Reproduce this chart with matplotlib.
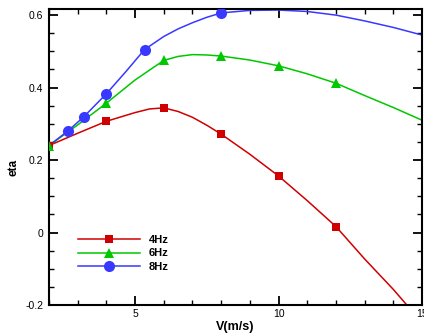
import matplotlib
matplotlib.use("Agg")
import matplotlib.pyplot as plt
from matplotlib.ticker import MultipleLocator
from matplotlib.lines import Line2D

plt.rcParams['font.family'] = ['Liberation Sans', 'DejaVu Sans']

# Curve readings (lines)
v4_line = [2, 3, 4, 5, 5.5, 6, 6.5, 7, 7.5, 8, 9, 10, 11, 12, 13, 14, 14.47]
eta4_line = [0.24, 0.274, 0.307, 0.331, 0.341, 0.344, 0.334, 0.318, 0.296, 0.2715, 0.216, 0.156, 0.088, 0.0165, -0.073, -0.157, -0.2]

v6_line = [2, 3, 4, 5, 6, 6.5, 7, 7.5, 8, 9, 10, 11, 12, 13, 14, 15]
eta6_line = [0.24, 0.297, 0.357, 0.421, 0.475, 0.486, 0.491, 0.490, 0.487, 0.476, 0.460, 0.438, 0.412, 0.378, 0.345, 0.310]

v8_line = [2, 2.67, 3.22, 4, 4.7, 5.33, 6, 6.5, 7, 7.5, 8, 9, 10, 11, 12, 13, 14, 15]
eta8_line = [0.24, 0.281, 0.320, 0.383, 0.446, 0.505, 0.541, 0.562, 0.579, 0.594, 0.606, 0.613, 0.614, 0.610, 0.600, 0.584, 0.566, 0.545]

# Marker readings
v4_pts = [2, 4, 6, 8, 10, 12]
eta4_pts = [0.24, 0.307, 0.344, 0.2715, 0.156, 0.0165]
v6_pts = [2, 4, 6, 8, 10, 12]
eta6_pts = [0.24, 0.357, 0.475, 0.487, 0.460, 0.412]
v8_pts = [2.67, 3.22, 4, 5.33, 8]
eta8_pts = [0.281, 0.320, 0.383, 0.505, 0.606]

labels = ['4Hz', '6Hz', '8Hz']
colors = ['#D00000', '#00C800', '#3838FF']
markers = ['s', '^', 'o']
msizes = [6, 6.5, 8]

fig = plt.figure(figsize=(4.24, 3.35), dpi=100)
ax = fig.add_axes([0.1156, 0.0896, 0.8797, 0.8826])

series = [(v4_line, eta4_line, v4_pts, eta4_pts),
          (v6_line, eta6_line, v6_pts, eta6_pts),
          (v8_line, eta8_line, v8_pts, eta8_pts)]
for (xl, yl, xp, yp), c, m, ms in zip(series, colors, markers, msizes):
    ax.plot(xl, yl, color=c, lw=1.1, zorder=2, clip_on=True,
            solid_joinstyle='round')
    ax.plot(xp, yp, linestyle='none', marker=m, color=c, markersize=ms,
            markeredgewidth=0, zorder=3)

ax.set_xlim(2, 15)
ax.set_ylim(-0.2, 0.616)
ax.xaxis.set_major_locator(MultipleLocator(5))
ax.xaxis.set_minor_locator(MultipleLocator(1))
ax.yaxis.set_minor_locator(MultipleLocator(0.05))
ax.set_yticks([-0.2, 0, 0.2, 0.4, 0.6])
ax.set_yticklabels(['-0.2', '0', '0.2', '0.4', '0.6'])

ax.tick_params(which='both', direction='in', top=True, right=True,
               labelsize=7.5, colors='black', width=1)
ax.tick_params(which='major', length=6.5, width=1.3)
ax.tick_params(which='minor', length=3.8)
ax.tick_params(axis='y', pad=4)
ax.tick_params(axis='x', pad=3)
for s in ax.spines.values():
    s.set_linewidth(1.5)

ax.set_xlabel('V(m/s)', fontsize=9, fontweight='bold', labelpad=1)
ax.set_ylabel('eta', fontsize=8.5, fontweight='bold')
ax.yaxis.set_label_coords(-0.078, 0.466)

handles = [Line2D([], [], color=c, lw=1.1, marker=m, markersize=ms, markeredgewidth=0)
           for c, m, ms in zip(colors, markers, msizes)]
leg = ax.legend(handles, labels, loc='upper left', bbox_to_anchor=(0.052, 0.27),
                frameon=False, handlelength=5.5, handletextpad=0.85,
                labelspacing=0.3, prop={'weight': 'bold', 'size': 8})

fig.savefig('out.png', dpi=100)
